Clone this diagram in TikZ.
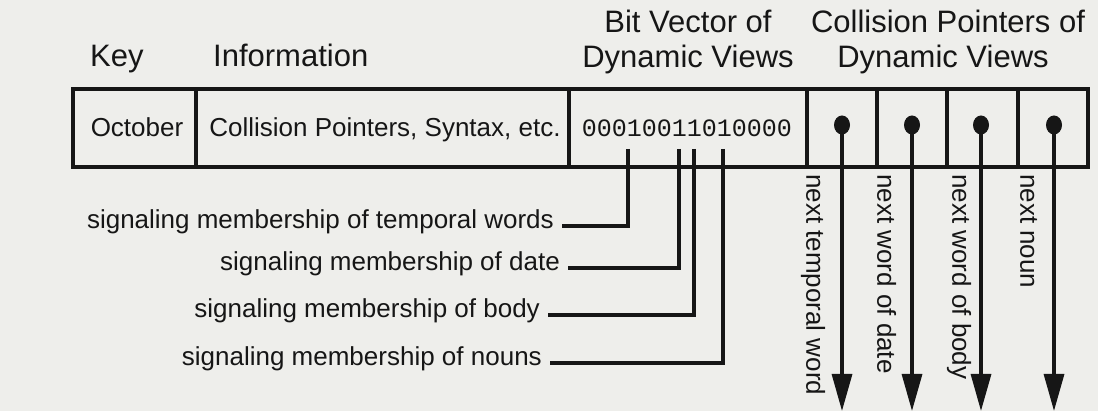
\documentclass[tikz,border=0pt]{standalone}
\usepackage{fontspec}
\setmainfont{Liberation Sans}
\newfontfamily\bitfont{Liberation Mono}
\usetikzlibrary{arrows.meta,shapes.geometric}

\definecolor{paper}{RGB}{238,238,235}
\definecolor{ink}{RGB}{22,22,22}

\begin{document}
\begin{tikzpicture}[x=1pt,y=-1pt,
  rule/.style={draw=ink,line width=3.2pt},
  cell/.style={rule,rectangle,inner sep=0pt,minimum height=78pt},
  head/.style={text=ink,inner sep=0pt,anchor=base,font=\fontsize{31}{36}\selectfont},
  celltext/.style={text=ink,inner sep=0pt,anchor=base,font=\fontsize{26}{31}\selectfont},
  bits/.style={text=ink,inner sep=0pt,anchor=base,font=\bitfont\fontsize{25}{30}\selectfont},
  memberlabel/.style={text=ink,inner ysep=0pt,inner xsep=8pt,anchor=mid east,font=\fontsize{26}{31}\selectfont},
  chainlabel/.style={text=ink,inner sep=0pt,anchor=mid west,rotate=-90,font=\fontsize{26}{31}\selectfont},
  pointer/.style={ellipse,fill=ink,inner sep=0pt,minimum width=16pt,minimum height=19pt},
  link/.style={draw=ink,line width=3.2pt},
  chain/.style={draw=ink,line width=3.2pt,-{Triangle[length=37pt,width=20pt]}}
]
\useasboundingbox (0,0) rectangle (1098,411);
\fill[paper] (0,0) rectangle (1098,411);

% column headings
\node[head,anchor=base west] (hkey) at (90,67) {Key};
\node[head,anchor=base west] (hinfo) at (213,67) {Information};
\node[head] (hbit1) at (688,33) {Bit Vector of};
\node[head] (hbit2) at (688,68) {Dynamic Views};
\node[head] (hcol1) at (948,33) {Collision Pointers of};
\node[head] (hcol2) at (943,68) {Dynamic Views};

% the record: one row of cells
\node[cell,minimum width=123pt] (ckey)  at (134.5,128) {};
\node[cell,minimum width=373pt] (cinfo) at (382.5,128) {};
\node[cell,minimum width=238pt] (cbits) at (688,128) {};
\node[cell,minimum width=70pt]  (cp1)   at (842,128) {};
\node[cell,minimum width=70pt]  (cp2)   at (912,128) {};
\node[cell,minimum width=71pt]  (cp3)   at (982.5,128) {};
\node[cell,minimum width=70pt]  (cp4)   at (1053,128) {};

\node[celltext] (tkey)  at (137,137) {October};
\node[celltext] (tinfo) at (385,137) {Collision Pointers, Syntax, etc.};
\node[bits]     (tbits) at (687,137) {00010011010000};

% bits of the vector that are tapped
\coordinate (b1) at (628,149);
\coordinate (b2) at (679,149);
\coordinate (b3) at (694,149);
\coordinate (b4) at (723,149);

\node[memberlabel] (m1) at (562,226) {signaling membership of temporal words};
\node[memberlabel] (m2) at (568,268) {signaling membership of date};
\node[memberlabel] (m3) at (548,315) {signaling membership of body};
\node[memberlabel] (m4) at (550,363) {signaling membership of nouns};

\draw[link] (b1) |- (m1.mid east);
\draw[link] (b2) |- (m2.mid east);
\draw[link] (b3) |- (m3.mid east);
\draw[link] (b4) |- (m4.mid east);

% collision pointers and the chains they start
\node[pointer] (p1) at (842,125) {};
\node[pointer] (p2) at (912,125) {};
\node[pointer] (p3) at (981,125) {};
\node[pointer] (p4) at (1054,125) {};

\coordinate (e1) at (842,411);
\coordinate (e2) at (912,411);
\coordinate (e3) at (981,411);
\coordinate (e4) at (1054,411);

\draw[chain] (p1.center) -- (e1);
\draw[chain] (p2.center) -- (e2);
\draw[chain] (p3.center) -- (e3);
\draw[chain] (p4.center) -- (e4);

\node[chainlabel] (n1) at (809,174) {next temporal word};
\node[chainlabel] (n2) at (880,174) {next word of date};
\node[chainlabel] (n3) at (955,174) {next word of body};
\node[chainlabel] (n4) at (1023,174) {next noun};
\end{tikzpicture}
\end{document}
